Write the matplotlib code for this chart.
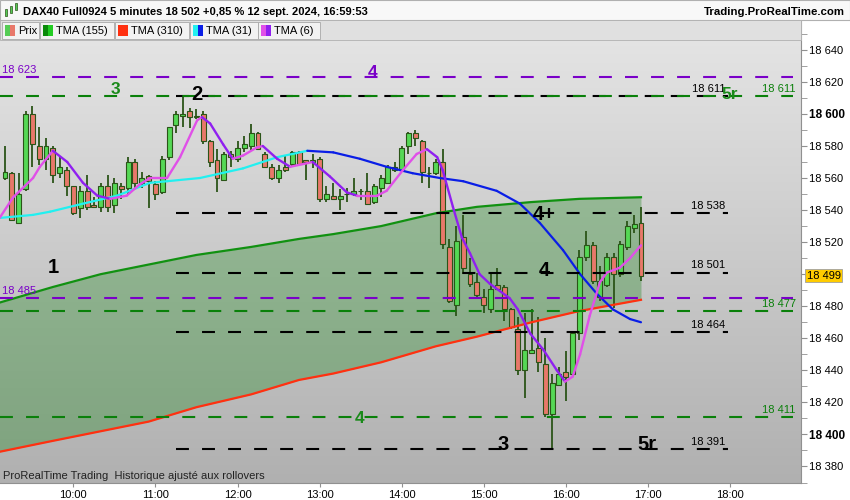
import numpy as np
import matplotlib.pyplot as plt
from matplotlib.patches import Rectangle
from matplotlib.collections import LineCollection

plt.rcParams['font.family'] = ['Liberation Sans', 'DejaVu Sans']

# bougies 5 minutes, index 0 = 09:10 ... index 93 = 16:55
opens = [18560, 18563, 18532, 18553, 18600, 18580, 18572, 18579, 18563, 18565,
         18555, 18541, 18552, 18543, 18542, 18555, 18543, 18555, 18554, 18570,
         18557, 18561, 18556, 18551, 18573, 18593, 18599, 18602, 18598, 18600,
         18583, 18571, 18559, 18575, 18572, 18579, 18580, 18588, 18575, 18567,
         18560, 18567, 18569, 18576, 18571, 18570, 18572, 18547, 18549, 18547,
         18550, 18550, 18552, 18552, 18545, 18554, 18557, 18567, 18565, 18580,
         18588, 18583, 18563, 18563, 18570, 18517, 18481, 18523, 18500, 18495,
         18486, 18478, 18493, 18492, 18478, 18466, 18440, 18451, 18454, 18444,
         18413, 18431, 18439, 18438, 18463, 18511, 18518, 18486, 18493, 18511,
         18500, 18517, 18529, 18532]
highs = [18580, 18564, 18563, 18602, 18605, 18592, 18585, 18580, 18574, 18567,
         18555, 18555, 18562, 18548, 18557, 18562, 18560, 18557, 18573, 18572,
         18564, 18562, 18558, 18574, 18592, 18602, 18611, 18604, 18603, 18602,
         18584, 18578, 18576, 18577, 18583, 18586, 18594, 18589, 18576, 18569,
         18568, 18574, 18577, 18577, 18571, 18575, 18573, 18555, 18557, 18553,
         18554, 18560, 18553, 18563, 18556, 18562, 18568, 18570, 18580, 18589,
         18590, 18584, 18567, 18572, 18578, 18522, 18530, 18537, 18510, 18501,
         18491, 18500, 18504, 18493, 18479, 18473, 18476, 18478, 18473, 18460,
         18438, 18442, 18452, 18464, 18515, 18527, 18520, 18505, 18513, 18513,
         18521, 18533, 18537, 18542]
lows = [18559, 18533, 18531, 18552, 18567, 18568, 18565, 18557, 18560, 18549,
        18537, 18535, 18540, 18541, 18539, 18539, 18538, 18547, 18550, 18554,
        18554, 18541, 18546, 18550, 18571, 18588, 18592, 18591, 18597, 18581,
        18567, 18551, 18558, 18567, 18570, 18576, 18577, 18578, 18566, 18559,
        18557, 18564, 18567, 18568, 18559, 18566, 18545, 18545, 18546, 18540,
        18545, 18549, 18546, 18543, 18544, 18548, 18556, 18564, 18564, 18575,
        18580, 18557, 18554, 18562, 18516, 18482, 18474, 18500, 18492, 18486,
        18476, 18476, 18490, 18471, 18466, 18437, 18423, 18451, 18439, 18411,
        18391, 18430, 18421, 18437, 18459, 18508, 18494, 18483, 18492, 18479,
        18498, 18515, 18526, 18496]
closes = [18564, 18534, 18550, 18600, 18581, 18572, 18580, 18562, 18567, 18555,
          18538, 18552, 18542, 18542, 18555, 18542, 18557, 18553, 18570, 18557,
          18560, 18558, 18550, 18572, 18592, 18600, 18600, 18598, 18599, 18583,
          18570, 18560, 18575, 18573, 18579, 18581, 18588, 18578, 18567, 18560,
          18565, 18565, 18576, 18569, 18570, 18571, 18547, 18550, 18547, 18549,
          18550, 18552, 18552, 18544, 18555, 18560, 18567, 18565, 18579, 18588,
          18585, 18564, 18563, 18570, 18519, 18483, 18521, 18504, 18494, 18487,
          18481, 18491, 18491, 18478, 18467, 18440, 18453, 18453, 18445, 18413,
          18432, 18438, 18436, 18463, 18511, 18518, 18496, 18496, 18511, 18500,
          18519, 18530, 18531, 18499]
last_price = 18499

# moyennes (position en barres, valeur)
long_pos = [-1, 7, 14, 21, 28, 36, 43, 48, 55, 63, 69, 77, 84, 93]
tma155 = [18482, 18492, 18500, 18506, 18512, 18517, 18522, 18525, 18530, 18538,
          18542, 18545, 18547, 18548]
tma310 = [18389, 18396, 18402, 18408, 18417, 18425, 18434, 18438, 18445, 18455,
          18461, 18470, 18477, 18484]

tma31_pos = [-1, 4.1, 6.6, 11.4, 16.4, 21.2, 23.7, 28.5, 34.8, 39.8, 44.2, 48.0,
             51.9, 55.8, 59.6, 63.6, 67.0, 71.9, 75.3, 78.2, 81.6, 84.1, 86.5,
             88.9, 91.4, 93.0]
tma31 = [18535, 18537, 18539, 18544, 18549, 18557, 18558, 18560, 18566, 18573,
         18577, 18576, 18572, 18567, 18563, 18560, 18558, 18552, 18544, 18532,
         18515, 18500, 18488, 18478, 18472, 18470]

tma6_pos = [-0.8, 1.2, 4.1, 5.1, 7.0, 9.1, 11.4, 13.5, 15.4, 17.8, 19.7, 21.2,
            23.7, 25.6, 28.1, 28.8, 30.0, 31.9, 33.3, 34.8, 36.8, 37.7, 39.8,
            41.7, 45.0, 47.5, 50.0, 51.5, 54.4, 55.8, 58.2, 60.2, 61.7, 63.2,
            64.0, 65.5, 66.8, 68.0, 69.4, 70.9, 73.8, 75.0, 76.8, 78.7, 80.7,
            81.9, 83.0, 84.1, 85.5, 87.0, 88.0, 89.9, 91.4, 93.0]
tma6 = [18535, 18548, 18560, 18567, 18577, 18570, 18557, 18549, 18547, 18549,
        18556, 18560, 18560, 18573, 18596, 18598, 18594, 18581, 18572, 18574,
        18579, 18580, 18572, 18567, 18570, 18561, 18551, 18549, 18549, 18552,
        18565, 18575, 18578, 18573, 18565, 18542, 18523, 18513, 18500, 18494,
        18485, 18478, 18463, 18453, 18440, 18433, 18436, 18450, 18474, 18495,
        18501, 18504, 18510, 18518]

# niveaux horizontaux
purple_levels = [18623, 18485]
green_levels = [18611, 18477, 18411]
black_levels = [18611, 18538, 18501, 18464, 18391]

hour_labels = ['10:00', '11:00', '12:00', '13:00', '14:00', '15:00', '16:00', '17:00', '18:00']
hour_pos = [10, 22, 34, 46, 58, 70, 82, 94, 106]

# annotations (texte, position barre, prix, couleur, taille)
marks = [('3', 16.1, 18615, '#1a8a1a', 12.5), ('2', 28.1, 18612, 'black', 14.5),
         ('4', 53.8, 18626, '#7a00c8', 12.5), ('5r', 106.0, 18612, '#1a8a1a', 12.5),
         ('1', 7.0, 18504, 'black', 14.5), ('4+', 78.9, 18537.5, 'black', 14.5),
         ('4', 78.9, 18502, 'black', 14.5), ('4', 51.9, 18410, '#1a8a1a', 12.5),
         ('3', 72.8, 18393.5, 'black', 14.5), ('5r', 93.9, 18393.5, 'black', 14.5)]

W, H = 850, 500
fig = plt.figure(figsize=(8.5, 5), dpi=100)
fig.patch.set_facecolor('white')
ax = fig.add_axes([0, 17 / H, 801 / W, 463 / H])

ax.set_xlim(-0.73, 116.4)
ax.set_ylim(18369.7, 18658.6)

# fond degrade
grad = np.linspace(0, 1, 256).reshape(-1, 1)
ax.imshow(grad, extent=[0, 1, 0, 1], transform=ax.transAxes, aspect='auto',
          cmap=plt.matplotlib.colors.LinearSegmentedColormap.from_list('bg', ['#e6e6e6', '#b0b0b0']),
          zorder=0)

# zone entre TMA 155 et TMA 310
ax.fill_between(long_pos, tma310, tma155, color='#0a800a', alpha=0.3, lw=0, zorder=1)
ax.plot(long_pos, tma155, color='#119111', lw=1.6, zorder=4)
ax.plot(long_pos, tma310, color='#ff3010', lw=1.6, zorder=4)


def two_tone(xs, ys, up, down, lw):
    xs = np.asarray(xs, float)
    ys = np.asarray(ys, float)
    segs = np.stack([np.column_stack([xs[:-1], ys[:-1]]),
                     np.column_stack([xs[1:], ys[1:]])], axis=1)
    cols = [up if b >= a else down for a, b in zip(ys[:-1], ys[1:])]
    ax.add_collection(LineCollection(segs, colors=cols, linewidths=lw, zorder=4,
                                     capstyle='round', joinstyle='round'))


# bougies
idx = np.arange(len(opens))
o = np.array(opens, float)
c = np.array(closes, float)
up = c >= o
ax.vlines(idx, lows, highs, color='#2b5418', lw=1.3, zorder=2.9)
ax.bar(idx, np.abs(c - o), bottom=np.minimum(o, c), width=0.72,
       color=np.where(up, '#55d855', '#e8786a'), edgecolor='#2b5418', lw=0.8, zorder=3)

two_tone(tma31_pos, tma31, '#22f0f0', '#0a1ee6', 1.6)
two_tone(tma6_pos, tma6, '#e050e8', '#9020f0', 1.7)

# lignes pointillees
dash = (0, (6.2, 6.3))
for v in black_levels:
    ax.plot([25, 105.7], [v, v], color='black', lw=1.5, ls=dash, zorder=5)
    ax.annotate(f'{v:,}'.replace(',', ' '), (105.3, v), xytext=(0, 1.5),
                textcoords='offset points', ha='right', va='bottom', fontsize=8, zorder=6)
for v in green_levels:
    ax.plot([-0.73, 115.2], [v, v], color='#0a800a', lw=1.5, ls=dash, zorder=5)
    ax.annotate(f'{v:,}'.replace(',', ' '), (115.6, v), xytext=(0, 1.5), color='#0a800a',
                textcoords='offset points', ha='right', va='bottom', fontsize=8, zorder=6)
for v in purple_levels:
    ax.plot([-0.73, 115.2], [v, v], color='#7a00c8', lw=1.5, ls=dash, zorder=5)
    ax.annotate(f'{v:,}'.replace(',', ' '), (-0.45, v), xytext=(0, 1.5), color='#7a00c8',
                textcoords='offset points', ha='left', va='bottom', fontsize=8, zorder=6)

for txt, xp, yp, col, fs in marks:
    ax.text(xp, yp, txt, color=col, fontsize=fs, fontweight='bold',
            ha='center', va='center', zorder=7)

ax.text(0.004, 0.016, 'ProRealTime Trading  Historique ajusté aux rollovers',
        transform=ax.transAxes, fontsize=8, color='#222222', va='center', zorder=7)

# axes
for s in ['left', 'top']:
    ax.spines[s].set_visible(False)
ax.spines['right'].set_color('#909090')
ax.spines['bottom'].set_color('#909090')
ax.yaxis.tick_right()
yt = np.arange(18380, 18660, 20)
ax.set_yticks(yt)
ax.set_yticks(np.arange(18370, 18660, 10), minor=True)
# le libelle 18 500 est masque par l'etiquette du dernier cours
ax.set_yticklabels(['' if v == 18500 else f'{v:,}'.replace(',', ' ') for v in yt], fontsize=8)
for lab, v in zip(ax.get_yticklabels(), yt):
    if v % 100 == 0:
        lab.set_fontweight('bold')
        lab.set_fontsize(8.5)
ax.tick_params(axis='y', which='both', direction='out', length=4, color='#909090', pad=2)
ax.set_xticks(hour_pos)
ax.set_xticklabels(hour_labels, fontsize=8)
ax.tick_params(axis='x', direction='out', length=3, color='#909090', pad=2)

# etiquette du dernier cours
ax.annotate(f'{last_price:,}'.replace(',', ' '), (1, last_price), xycoords=('axes fraction', 'data'),
            xytext=(4, 0), textcoords='offset points', ha='left', va='center', fontsize=8,
            annotation_clip=False,
            bbox=dict(boxstyle='square,pad=0.15', fc='#ffcc00', ec='#a0a0a0', lw=0.6))


def px_rect(x0, y0, x1, y1, **kw):
    fig.add_artist(Rectangle((x0 / W, 1 - y1 / H), (x1 - x0) / W, (y1 - y0) / H,
                             transform=fig.transFigure, **kw))


# en-tete
px_rect(0, 0, 850, 20, fc='#f8f8f8', ec='#b0b0b0', lw=0.8)
px_rect(0, 20, 801, 40, fc='#e0e0e0', ec='#b0b0b0', lw=0.6)
# petite icone
px_rect(5, 9, 7, 16, fc='#55cc55', ec='#2b5418', lw=0.5)
px_rect(10, 6, 12, 13, fc='#55cc55', ec='#2b5418', lw=0.5)
px_rect(15, 3, 17, 10, fc='#55cc55', ec='#2b5418', lw=0.5)
fig.text(23 / W, 1 - 12 / H, 'DAX40 Full0924 5 minutes 18 502 +0,85 % 12 sept. 2024, 16:59:53',
         fontsize=8, fontweight='bold', va='center')
fig.text(845 / W, 1 - 12 / H, 'Trading.ProRealTime.com', fontsize=8.2, fontweight='bold',
         va='center', ha='right')

legend = [('Prix', 2, 39, '#55cc55', '#e8786a'),
          ('TMA (155)', 40, 114, '#0a8a0a', '#22cc22'),
          ('TMA (310)', 115, 189, '#ff3010', '#ff3010'),
          ('TMA (31)', 190, 258, '#22f0f0', '#0a1ee6'),
          ('TMA (6)', 258, 320, '#e050e8', '#9020f0')]
for name, x0, x1, c1, c2 in legend:
    px_rect(x0, 22, x1, 39, fc='#f2f2f2', ec='#a8a8a8', lw=0.6)
    px_rect(x0 + 3, 25, x0 + 8, 36, fc=c1, ec='none')
    px_rect(x0 + 8, 25, x0 + 13, 36, fc=c2, ec='none')
    fig.text((x0 + 16) / W, 1 - 31 / H, name, fontsize=8, va='center')

fig.savefig('out.png', dpi=100)
